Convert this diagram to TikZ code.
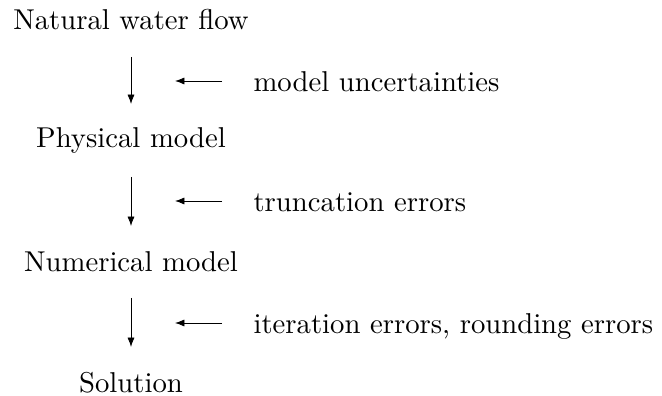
\documentclass[tikz,border=0pt]{standalone}
\usetikzlibrary{arrows.meta}
\begin{document}
\begin{tikzpicture}[x=0.3484pt,y=-0.3484pt,
  lbl/.style={inner sep=0pt,anchor=base},
  note/.style={inner sep=0pt,anchor=base west},
  flow/.style={line width=0.3pt,-{Latex[length=3.3pt,width=2.5pt]}}]
\useasboundingbox (0,0) rectangle (662,396);
\node[lbl] (n1) at (131,30) {Natural water flow};
\node[lbl] (n2) at (131,148) {Physical model};
\node[lbl] (n3) at (131,272) {Numerical model};
\node[lbl] (n4) at (131,393) {Solution};
\coordinate (a1s) at (131,57);  \coordinate (a1e) at (131,104);
\coordinate (a2s) at (131,177); \coordinate (a2e) at (131,226);
\coordinate (a3s) at (131,298); \coordinate (a3e) at (131,347);
\coordinate (h1s) at (222,81);  \coordinate (h1e) at (175,81);
\coordinate (h2s) at (222,201); \coordinate (h2e) at (175,201);
\coordinate (h3s) at (222,323); \coordinate (h3e) at (175,323);
\node[note] (m1) at (253,92) {model uncertainties};
\node[note] (m2) at (253,212) {truncation errors};
\node[note] (m3) at (253,334) {iteration errors, rounding errors};
\draw[flow] (a1s) -- (a1e);
\draw[flow] (a2s) -- (a2e);
\draw[flow] (a3s) -- (a3e);
\draw[flow] (h1s) -- (h1e);
\draw[flow] (h2s) -- (h2e);
\draw[flow] (h3s) -- (h3e);
\end{tikzpicture}
\end{document}
